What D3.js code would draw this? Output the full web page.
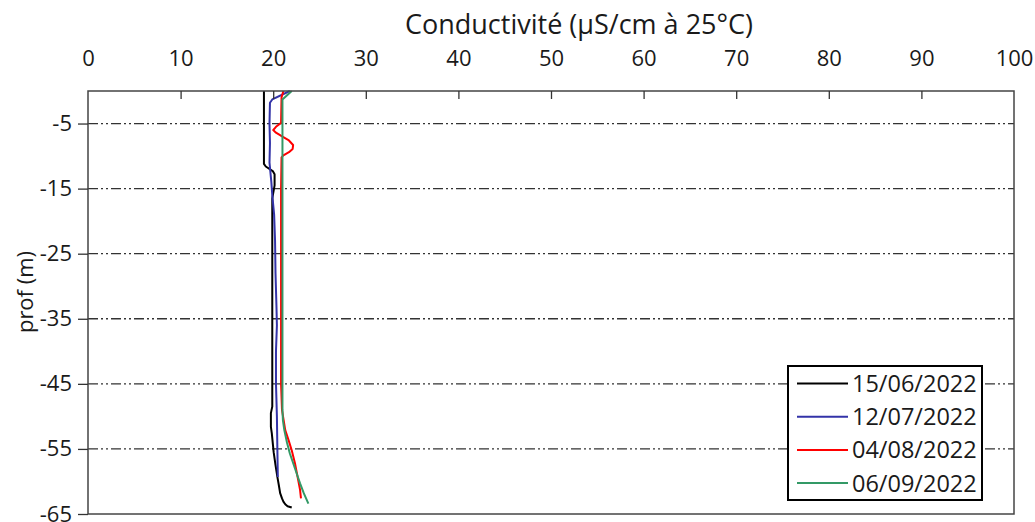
<!DOCTYPE html>
<html>
<head>
<meta charset="utf-8">
<script src="https://cdn.jsdelivr.net/npm/d3@7"></script>
<style>
  html, body { margin: 0; padding: 0; background: #fff; }
  svg { display: block; font-family: "Open Sans", "Noto Sans", sans-serif; }
</style>
</head>
<body>
<svg id="chart" width="1035" height="522"></svg>
<script>
// Conductivity profiles (µS/cm at 25°C) versus depth (m)
const xTicks = [0, 10, 20, 30, 40, 50, 60, 70, 80, 90, 100];
const yTicks = [-5, -15, -25, -35, -45, -55, -65];
const seriesNames = ["15/06/2022", "12/07/2022", "04/08/2022", "06/09/2022"];
const seriesColors = ["#000000", "#3333A8", "#FF0000", "#339966"];

const depth150622 = [0, -11.2, -11.6, -12.3, -12.8, -14.5, -16.5, -20, -25, -30, -35, -40, -45, -48.5, -49.5, -51.6, -52.6, -55.5, -57.5, -59.3, -60.5, -61.8, -62.6, -63.1, -63.5, -63.8, -64.0];
const cond150622  = [19.0, 19.0, 19.2, 19.95, 20.15, 20.15, 19.9, 19.9, 19.9, 19.9, 19.9, 19.9, 19.9, 19.9, 19.75, 19.75, 19.85, 20.05, 20.25, 20.45, 20.6, 20.75, 20.95, 21.1, 21.3, 21.55, 22.0];

const depth120722 = [0, -1.3, -1.8, -5, -8, -11, -12.5, -14, -16, -19, -23, -28, -33, -36, -40, -45, -50, -55, -59.3];
const cond120722  = [21.8, 19.9, 19.65, 19.6, 19.65, 19.6, 19.7, 19.8, 19.9, 20.1, 20.2, 20.25, 20.35, 20.4, 20.3, 20.3, 20.4, 20.45, 20.5];

const depth040822 = [0, -1.0, -4.9, -5.5, -6.0, -6.4, -7.0, -7.6, -8.3, -8.9, -9.4, -9.9, -10.2, -15, -25, -35, -45, -49, -52.1, -53.6, -55.2, -57.2, -59.8, -61.3, -62.6];
const cond040822  = [21.1, 20.9, 20.85, 20.3, 20.0, 20.3, 21.0, 21.7, 22.15, 22.1, 21.7, 21.1, 20.9, 20.85, 20.85, 20.85, 20.85, 20.95, 21.3, 21.65, 22.0, 22.35, 22.7, 22.9, 23.0];

const depth060922 = [0, -1.3, -5, -15, -25, -35, -45, -49, -50.6, -52.1, -54.1, -55.7, -58.2, -60.3, -61.8, -63.4];
const cond060922  = [22.0, 21.0, 21.0, 21.0, 21.0, 21.0, 21.0, 21.0, 21.05, 21.2, 21.5, 21.8, 22.4, 22.9, 23.3, 23.8];

const profiles = [
  { depth: depth150622, cond: cond150622 },
  { depth: depth120722, cond: cond120722 },
  { depth: depth040822, cond: cond040822 },
  { depth: depth060922, cond: cond060922 }
];

const svg = d3.select("#chart");
const plot = { left: 88, right: 1014, top: 91, bottom: 514 };

const x = d3.scaleLinear().domain([0, 100]).range([plot.left, plot.right]);
const y = d3.scaleLinear().domain([0, -65]).range([plot.top, plot.bottom]);

// dash-dot-dot horizontal gridlines
svg.append("g")
  .selectAll("line")
  .data(yTicks.filter(d => d > -65))
  .join("line")
  .attr("x1", plot.left).attr("x2", plot.right)
  .attr("y1", d => y(d)).attr("y2", d => y(d))
  .attr("stroke", "#333")
  .attr("stroke-width", 1.3)
  .attr("stroke-dasharray", "10,3,2,3,2,3");

// profile lines
const line = d3.line()
  .x(d => x(d[1]))
  .y(d => y(d[0]));

svg.append("g")
  .selectAll("path")
  .data(profiles)
  .join("path")
  .attr("d", p => line(d3.zip(p.depth, p.cond)))
  .attr("fill", "none")
  .attr("stroke", (p, i) => seriesColors[i])
  .attr("stroke-width", 2)
  .attr("stroke-linejoin", "round");

// plot frame
svg.append("rect")
  .attr("x", plot.left).attr("y", plot.top)
  .attr("width", plot.right - plot.left)
  .attr("height", plot.bottom - plot.top)
  .attr("fill", "none")
  .attr("stroke", "#444")
  .attr("stroke-width", 1.5);

// top axis: ticks pointing into the plot, labels above
const xAxis = svg.append("g")
  .attr("transform", `translate(0,${plot.top})`)
  .call(d3.axisTop(x).tickValues(xTicks).tickFormat(d => String(d)).tickSizeInner(-8).tickSizeOuter(0).tickPadding(25));
xAxis.select(".domain").remove();
xAxis.selectAll(".tick line").attr("stroke", "#333").attr("stroke-width", 1.3)
  .filter(d => d === 0 || d === 100).remove();
xAxis.selectAll("text")
  .attr("fill", "#1a1a1a")
  .style("font-size", "22px")
  .style("font-family", "'Open Sans', sans-serif");

// left axis: ticks pointing outward
const yAxis = svg.append("g")
  .attr("transform", `translate(${plot.left},0)`)
  .call(d3.axisLeft(y).tickValues(yTicks).tickFormat(d => String(d)).tickSizeInner(10).tickSizeOuter(0).tickPadding(6));
yAxis.select(".domain").remove();
yAxis.selectAll(".tick line").attr("stroke", "#333").attr("stroke-width", 1.3);
yAxis.selectAll("text")
  .attr("fill", "#1a1a1a")
  .style("font-size", "22px")
  .style("font-family", "'Open Sans', sans-serif");

// axis titles
svg.append("text")
  .attr("x", 579)
  .attr("y", 34)
  .attr("text-anchor", "middle")
  .attr("fill", "#1a1a1a")
  .style("font-size", "27px")
  .text("Conductivité (µS/cm à 25°C)");

svg.append("text")
  .attr("transform", "translate(33,292) rotate(-90)")
  .attr("text-anchor", "middle")
  .attr("fill", "#1a1a1a")
  .style("font-size", "22px")
  .text("prof (m)");

// legend
const legend = svg.append("g").attr("transform", "translate(788,366)");
legend.append("rect")
  .attr("width", 194).attr("height", 134)
  .attr("fill", "#fff")
  .attr("stroke", "#000")
  .attr("stroke-width", 2);
const rows = legend.selectAll("g.row")
  .data(seriesNames)
  .join("g")
  .attr("class", "row")
  .attr("transform", (d, i) => `translate(0,${17.5 + i * 33.2})`);
rows.append("line")
  .attr("x1", 9).attr("x2", 60)
  .attr("stroke", (d, i) => seriesColors[i])
  .attr("stroke-width", 2);
rows.append("text")
  .attr("x", 64)
  .attr("dy", "0.36em")
  .attr("fill", "#1a1a1a")
  .style("font-size", "23.5px")
  .text(d => d);
</script>
</body>
</html>
